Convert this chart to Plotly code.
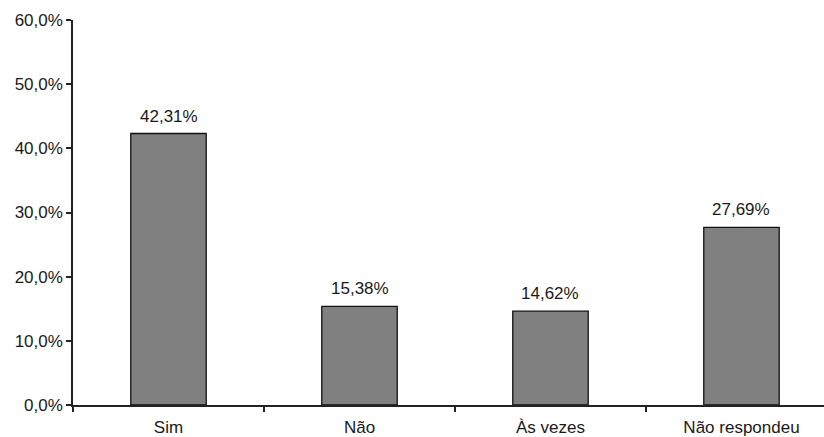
import plotly.graph_objects as go

categories = ["Sim", "Não", "Às vezes", "Não respondeu"]
values = [42.31, 15.38, 14.62, 27.69]
y_tick_vals = [0, 10, 20, 30, 40, 50, 60]
y_tick_text = ["0,0%", "10,0%", "20,0%", "30,0%", "40,0%", "50,0%", "60,0%"]
value_labels = ["42,31%", "15,38%", "14,62%", "27,69%"]

FONT = "Liberation Sans, Arial, sans-serif"

fig = go.Figure()
fig.add_trace(go.Bar(
    x=categories, y=values, width=0.395,
    marker=dict(color="#808080", line=dict(color="#111111", width=1.3)),
    hoverinfo="skip",
))

for c, v, t in zip(categories, values, value_labels):
    fig.add_annotation(x=c, y=v, text=t, showarrow=False, yanchor="bottom",
                       yshift=6, font=dict(family=FONT, size=17, color="#1a1a1a"))

fig.update_layout(
    width=824, height=437,
    margin=dict(l=73, r=0, t=20, b=32, pad=0),
    paper_bgcolor="white", plot_bgcolor="white",
    showlegend=False,
    font=dict(family=FONT, size=17, color="#1a1a1a"),
    xaxis=dict(
        range=[-0.5, 3.432], showgrid=False, zeroline=False,
        showline=True, linecolor="#222222", linewidth=1.5,
        ticks="outside", tickson="boundaries", ticklen=5, tickwidth=1.5,
        tickcolor="#222222", ticklabelstandoff=6,
    ),
    yaxis=dict(
        range=[0, 60], showgrid=False, zeroline=False,
        showline=True, linecolor="#222222", linewidth=1.5,
        ticks="outside", ticklen=5, tickwidth=1.5, tickcolor="#222222",
        tickvals=y_tick_vals, ticktext=y_tick_text,
    ),
)

fig.write_html("out.html")
